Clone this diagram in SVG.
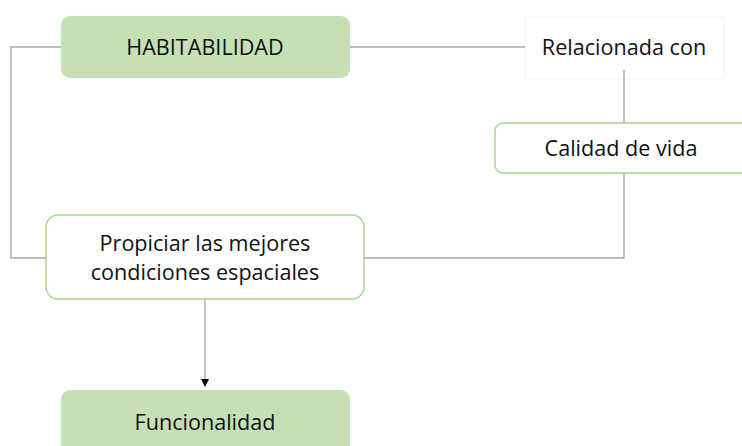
<svg xmlns="http://www.w3.org/2000/svg" width="742" height="446" viewBox="0 0 742 446">
<style>
.t{font-family:"Open Sans","Liberation Sans",sans-serif;font-size:21.6px;fill:#111111;text-anchor:middle}
.fill{fill:#c5e0b4;stroke:none}
.out{fill:#ffffff;stroke:#a9d98a;stroke-width:1.5}
.c{fill:none;stroke:#a6a6a6;stroke-width:1.3}
</style>
<defs>
<marker id="ah" markerWidth="8" markerHeight="8" refX="4" refY="4" orient="auto" markerUnits="userSpaceOnUse">
<path d="M0,0 L8,4 L0,8 z" fill="#000"/>
</marker>
</defs>
<g id="habitabilidad">
<rect class="fill" x="61" y="16" width="289" height="62" rx="9"/>
<text class="t" x="205" y="55">HABITABILIDAD</text>
</g>
<g id="relacionada">
<rect x="525" y="17" width="199" height="62" fill="#ffffff" stroke="#f2f2f2" stroke-width="1"/>
<text class="t" x="624" y="55">Relacionada con</text>
</g>
<g id="calidad">
<rect class="out" x="495" y="123" width="260" height="50" rx="8"/>
<text class="t" x="621" y="156">Calidad de vida</text>
</g>
<g id="propiciar">
<rect class="out" x="46" y="215" width="318" height="84" rx="12"/>
<text class="t" x="205" y="251">Propiciar las mejores</text>
<text class="t" x="205" y="280">condiciones espaciales</text>
</g>
<g id="funcionalidad">
<rect class="fill" x="61" y="390" width="289" height="70" rx="9"/>
<text class="t" x="205" y="430">Funcionalidad</text>
</g>
<g id="connectors">
<path class="c" d="M350,47 H525"/>
<path class="c" d="M624,70 V123"/>
<path class="c" d="M624,173 V258 H364"/>
<path class="c" d="M61,47 H11 V258 H46"/>
<path class="c" d="M205,299 V383" marker-end="url(#ah)"/>
</g>
</svg>
